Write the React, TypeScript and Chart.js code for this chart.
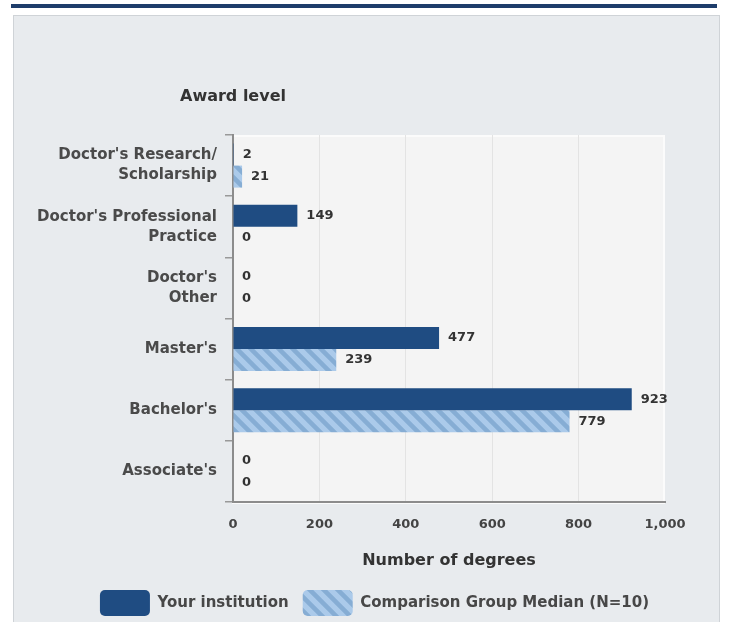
import React, { useEffect, useRef } from 'react';
import { Chart, registerables } from 'chart.js';

Chart.register(...registerables);

const categories: (string | string[])[] = [
  ["Doctor's Research/", 'Scholarship'],
  ["Doctor's Professional", 'Practice'],
  ["Doctor's", 'Other'],
  "Master's",
  "Bachelor's",
  "Associate's",
];
const yourInstitution = [2, 149, 0, 477, 923, 0];
const comparisonMedian = [21, 0, 0, 239, 779, 0];
const seriesNames = ['Your institution', 'Comparison Group Median (N=10)'];
const xTickValues = [0, 200, 400, 600, 800, 1000];
const xAxisTitle = 'Number of degrees';
const yAxisTitle = 'Award level';

const FONT = "'DejaVu Sans', Verdana, sans-serif";

function makeHatch(): CanvasPattern | string {
  const s = 14;
  const c = document.createElement('canvas');
  c.width = s;
  c.height = s;
  const g = c.getContext('2d');
  if (!g) return '#a9c8e6';
  g.fillStyle = '#abcaea';
  g.fillRect(0, 0, s, s);
  g.strokeStyle = '#86add4';
  g.lineWidth = 4.5;
  g.beginPath();
  for (let k = -1; k <= 1; k++) {
    g.moveTo(-2, -2 + k * s);
    g.lineTo(s + 2, s + 2 + k * s);
  }
  g.stroke();
  const p = g.createPattern(c, 'repeat');
  return p || '#a9c8e6';
}

const plotBgPlugin = {
  id: 'plotBg',
  beforeDraw(chart: any) {
    const { ctx, chartArea: a } = chart;
    ctx.save();
    ctx.fillStyle = '#f4f4f4';
    ctx.fillRect(a.left, a.top, a.right - a.left, a.bottom - a.top);
    ctx.strokeStyle = '#fbfbfb';
    ctx.lineWidth = 2;
    ctx.strokeRect(a.left, a.top + 1, a.right - a.left - 1, a.bottom - a.top);
    ctx.restore();
  },
};

const legendPlacePlugin = {
  id: 'legendPlace',
  afterLayout(chart: any) {
    const l = chart.legend;
    if (l) {
      l.left = 84;
      l.right = 665;
      l.width = l.right - l.left;
    }
  },
};

const titlePlugin = {
  id: 'awardTitle',
  afterDraw(chart: any) {
    const { ctx, chartArea: a } = chart;
    ctx.save();
    ctx.font = `bold 16px ${FONT}`;
    ctx.fillStyle = '#333333';
    ctx.textAlign = 'left';
    ctx.textBaseline = 'middle';
    ctx.fillText(yAxisTitle, a.left - 53, a.top - 38);
    ctx.restore();
  },
};

const valueLabelPlugin = {
  id: 'valueLabels',
  afterDatasetsDraw(chart: any) {
    const { ctx } = chart;
    ctx.save();
    ctx.font = `bold 13px ${FONT}`;
    ctx.fillStyle = '#333333';
    ctx.textAlign = 'left';
    ctx.textBaseline = 'middle';
    chart.data.datasets.forEach((ds: any, di: number) => {
      const meta = chart.getDatasetMeta(di);
      meta.data.forEach((bar: any, i: number) => {
        ctx.fillText(String(ds.data[i]), bar.x + 9, bar.y);
      });
    });
    ctx.restore();
  },
};

export default function App() {
  const ref = useRef<HTMLCanvasElement | null>(null);

  useEffect(() => {
    if (!ref.current) return;
    const hatch = makeHatch();
    const chart = new Chart(ref.current, {
      type: 'bar',
      data: {
        labels: categories as any,
        datasets: [
          {
            label: seriesNames[0],
            data: yourInstitution,
            backgroundColor: '#1f4c82',
            borderWidth: 0,
            categoryPercentage: 0.72,
            barPercentage: 1,
          },
          {
            label: seriesNames[1],
            data: comparisonMedian,
            backgroundColor: hatch as any,
            borderWidth: 0,
            categoryPercentage: 0.72,
            barPercentage: 1,
          },
        ],
      },
      options: {
        indexAxis: 'y',
        animation: false,
        responsive: false,
        maintainAspectRatio: false,
        layout: { padding: { left: 16, right: 66, top: 135, bottom: 0 } },
        plugins: {
          tooltip: { enabled: false },
          title: { display: false },
          legend: {
            position: 'bottom',
            labels: {
              boxWidth: 50,
              boxHeight: 26,
              padding: 14,
              useBorderRadius: true,
              borderRadius: 5,
              color: '#474747',
              font: { family: FONT, size: 15, weight: 'bold' },
            },
          },
        },
        scales: {
          x: {
            type: 'linear',
            min: xTickValues[0],
            max: xTickValues[xTickValues.length - 1],
            afterBuildTicks: (scale: any) => {
              scale.ticks = xTickValues.map((v) => ({ value: v }));
            },
            afterFit: (scale: any) => {
              scale.height = 74;
            },
            grid: {
              drawTicks: false,
              color: (c: any) =>
                c.tick && (c.tick.value === 0 || c.tick.value === 1000) ? 'rgba(0,0,0,0)' : '#e3e3e3',
              lineWidth: 1,
            },
            border: { display: true, color: '#8c8c8c', width: 2 },
            ticks: {
              padding: 15,
              color: '#444444',
              font: { family: FONT, size: 13, weight: 'bold' },
              callback: (v: any) => Number(v).toLocaleString('en-US'),
            },
            title: {
              display: true,
              text: xAxisTitle,
              color: '#333333',
              font: { family: FONT, size: 16, weight: 'bold' },
              padding: { top: 0, bottom: 6 },
            },
          },
          y: {
            afterFit: (scale: any) => {
              scale.width = 217;
            },
            grid: {
              offset: true,
              drawOnChartArea: false,
              drawTicks: true,
              tickLength: 8,
              color: '#999999',
              lineWidth: 1.5,
            },
            border: { display: true, color: '#8c8c8c', width: 2 },
            ticks: {
              padding: 8,
              autoSkip: false,
              color: '#4a4a4a',
              font: { family: FONT, size: 15, weight: 'bold', lineHeight: 1.33 },
            },
          },
        },
      },
      plugins: [plotBgPlugin, legendPlacePlugin, titlePlugin, valueLabelPlugin],
    });
    return () => chart.destroy();
  }, []);

  return (
    <div
      style={{
        position: 'absolute',
        left: 0,
        top: 0,
        width: 731,
        height: 622,
        overflow: 'hidden',
        background: '#ffffff',
      }}
    >
      <div
        style={{
          position: 'absolute',
          left: 11,
          top: 4,
          width: 706,
          height: 4,
          background: '#1e3d6b',
        }}
      />
      <div
        style={{
          position: 'absolute',
          left: 13,
          top: 15,
          width: 707,
          height: 620,
          background: '#e8ebee',
          border: '1px solid #cfd3d7',
          boxSizing: 'border-box',
        }}
      />
      <canvas
        ref={ref}
        width={731}
        height={626}
        style={{ position: 'absolute', left: 0, top: 0, width: 731, height: 626 }}
      />
    </div>
  );
}
